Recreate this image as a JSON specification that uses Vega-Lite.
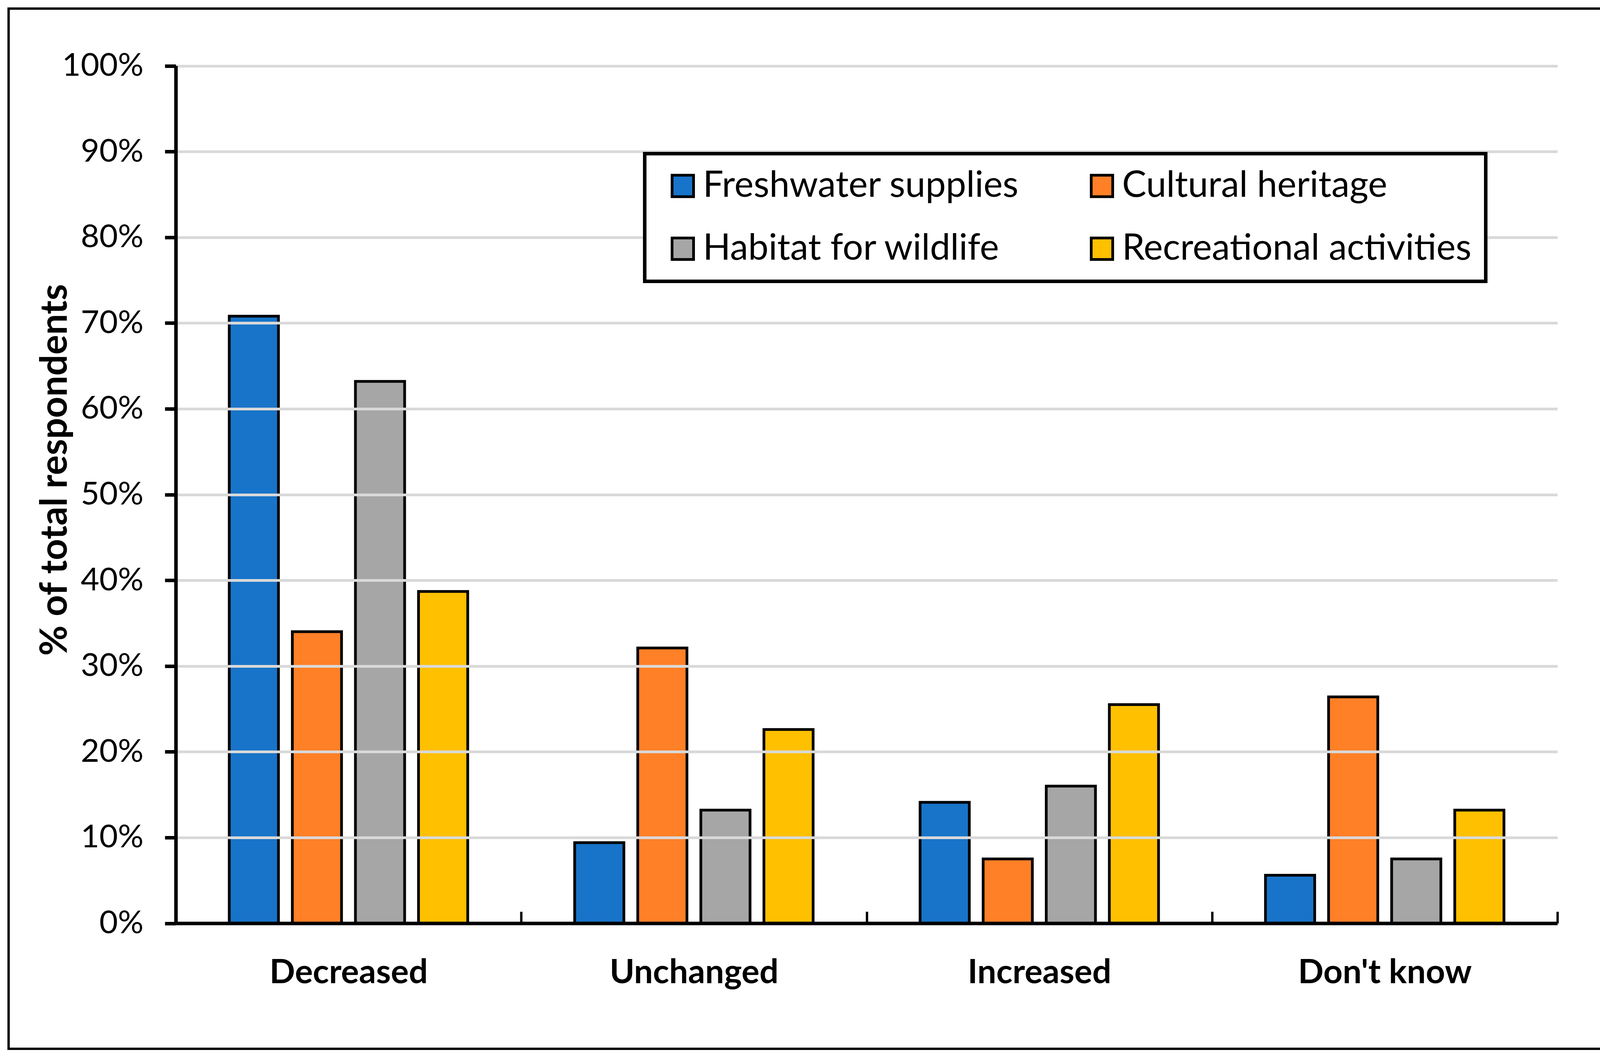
{
  "$schema": "https://vega.github.io/schema/vega-lite/v6.json",
  "width": 4101,
  "height": 2664,
  "autosize": {"type": "none"},
  "padding": {"left": 22, "top": 22, "right": 16, "bottom": 21},
  "background": "white",
  "config": {
    "font": "Lato",
    "view": {"stroke": "black", "strokeWidth": 6}
  },
  "data": {
    "values": [
      {"response": "Decreased", "service": "Freshwater supplies", "pct": 0.708},
      {"response": "Decreased", "service": "Cultural heritage", "pct": 0.340},
      {"response": "Decreased", "service": "Habitat for wildlife", "pct": 0.632},
      {"response": "Decreased", "service": "Recreational activities", "pct": 0.387},
      {"response": "Unchanged", "service": "Freshwater supplies", "pct": 0.094},
      {"response": "Unchanged", "service": "Cultural heritage", "pct": 0.321},
      {"response": "Unchanged", "service": "Habitat for wildlife", "pct": 0.132},
      {"response": "Unchanged", "service": "Recreational activities", "pct": 0.226},
      {"response": "Increased", "service": "Freshwater supplies", "pct": 0.141},
      {"response": "Increased", "service": "Cultural heritage", "pct": 0.075},
      {"response": "Increased", "service": "Habitat for wildlife", "pct": 0.160},
      {"response": "Increased", "service": "Recreational activities", "pct": 0.255},
      {"response": "Don't know", "service": "Freshwater supplies", "pct": 0.056},
      {"response": "Don't know", "service": "Cultural heritage", "pct": 0.264},
      {"response": "Don't know", "service": "Habitat for wildlife", "pct": 0.075},
      {"response": "Don't know", "service": "Recreational activities", "pct": 0.132}
    ]
  },
  "mark": {"type": "bar", "stroke": "black", "strokeWidth": 7},
  "encoding": {
    "x": {
      "field": "response",
      "type": "nominal",
      "sort": ["Decreased", "Unchanged", "Increased", "Don't know"],
      "scale": {"range": [428, 3965], "paddingInner": 0, "paddingOuter": 0},
      "axis": {
        "title": null,
        "orient": "bottom",
        "offset": -321.5,
        "labelAngle": 0,
        "labelFontWeight": "bold",
        "labelFontSize": 86,
        "labelColor": "black",
        "labelPadding": 115,
        "labelLimit": 1500,
        "tickBand": "extent",
        "tickSize": -30,
        "tickWidth": 6,
        "tickColor": "black",
        "domainColor": "black",
        "domainWidth": 9,
        "grid": false,
        "zindex": 1
      }
    },
    "xOffset": {
      "field": "service",
      "type": "nominal",
      "sort": ["Freshwater supplies", "Cultural heritage", "Habitat for wildlife", "Recreational activities"],
      "scale": {"paddingInner": 0.22, "paddingOuter": 0.8475}
    },
    "y": {
      "field": "pct",
      "type": "quantitative",
      "scale": {"domain": [0, 1], "range": [2342.5, 146.5], "nice": false},
      "axis": {
        "title": "% of total respondents",
        "format": ".0%",
        "values": [0, 0.1, 0.2, 0.3, 0.4, 0.5, 0.6, 0.7, 0.8, 0.9, 1],
        "offset": -428,
        "grid": true,
        "gridColor": "#D9D9D9",
        "gridWidth": 7,
        "domainColor": "black",
        "domainWidth": 9,
        "tickColor": "black",
        "tickWidth": 9,
        "tickSize": 28,
        "labelPadding": 55,
        "labelFontSize": 82,
        "labelColor": "black",
        "labelLimit": 1000,
        "titleFontSize": 95,
        "titleFontWeight": "bold",
        "titleColor": "black",
        "titleX": -260,
        "titleY": 1181,
        "zindex": 1
      }
    },
    "fill": {
      "field": "service",
      "type": "nominal",
      "sort": ["Freshwater supplies", "Cultural heritage", "Habitat for wildlife", "Recreational activities"],
      "scale": {
        "domain": ["Freshwater supplies", "Cultural heritage", "Habitat for wildlife", "Recreational activities"],
        "range": ["#1874C9", "#FF8027", "#A6A6A6", "#FFC000"]
      },
      "legend": {
        "title": null,
        "orient": "none",
        "legendX": 1628.5,
        "legendY": 371.5,
        "direction": "horizontal",
        "columns": 2,
        "strokeColor": "black",
        "fillColor": "white",
        "padding": 36,
        "symbolType": "square",
        "symbolSize": 3025,
        "symbolStrokeColor": "black",
        "symbolStrokeWidth": 7,
        "symbolOffset": 15,
        "labelOffset": 5,
        "labelFontSize": 93,
        "labelColor": "black",
        "labelLimit": 2000,
        "rowPadding": 67,
        "columnPadding": 150,
        "zindex": 2,
        "encode": {"legend": {"update": {"strokeWidth": {"value": 9}}}}
      }
    }
  }
}
